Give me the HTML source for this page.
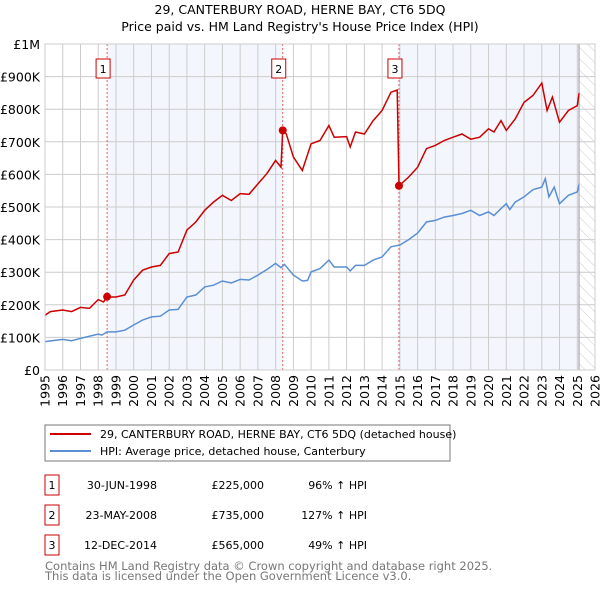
<!DOCTYPE html>
<html><head><meta charset="utf-8"><style>
body{margin:0;background:#fff;width:600px;height:590px;overflow:hidden;font-family:"DejaVu Sans","Liberation Sans",sans-serif;}
svg text{font-family:"DejaVu Sans","Liberation Sans",sans-serif;}
</style></head><body>
<svg id="c" width="600" height="590">
<defs><pattern id="hatch" width="8" height="8" patternUnits="userSpaceOnUse" patternTransform="rotate(-45)"><line x1="0" y1="0" x2="0" y2="8" stroke="#ccc" stroke-width="1"/></pattern></defs>
<text x="300" y="14" text-anchor="middle" font-size="12.5">29, CANTERBURY ROAD, HERNE BAY, CT6 5DQ</text>
<text x="300" y="31" text-anchor="middle" font-size="12.5">Price paid vs. HM Land Registry's House Price Index (HPI)</text>
<g id="plot"></g>
<rect x="45" y="425" width="405" height="36" fill="#fff" stroke="#777"/>
<line x1="50" y1="434" x2="91" y2="434" stroke="#cc0000" stroke-width="2"/>
<text x="100" y="438" font-size="11">29, CANTERBURY ROAD, HERNE BAY, CT6 5DQ (detached house)</text>
<line x1="50" y1="451" x2="91" y2="451" stroke="#5b8fd4" stroke-width="2"/>
<text x="100" y="455" font-size="11">HPI: Average price, detached house, Canterbury</text>
<g id="tbl"></g>
<text x="45" y="570" font-size="11.5" fill="#777">Contains HM Land Registry data © Crown copyright and database right 2025.</text>
<text x="45" y="580" font-size="11.5" fill="#777">This data is licensed under the Open Government Licence v3.0.</text>
</svg>
<script>
const hpiYears=[1995,1996,1996.5,1997,1998,1998.2,1998.5,1999,1999.5,2000,2000.5,2001,2001.5,2002,2002.5,2003,2003.5,2004,2004.5,2005,2005.5,2006,2006.5,2007,2007.5,2008,2008.3,2008.5,2009,2009.5,2009.8,2010,2010.5,2011,2011.3,2012,2012.2,2012.5,2013,2013.5,2014,2014.5,2015,2015.5,2016,2016.5,2017,2017.5,2018,2018.5,2019,2019.5,2020,2020.3,2020.7,2021,2021.2,2021.5,2022,2022.5,2023,2023.2,2023.4,2023.7,2024,2024.5,2025,2025.1];
const hpiValues=[87,94,90,97,110,107,117,117,122,138,153,163,165,184,186,224,230,255,260,273,267,278,276,291,308,327,314,324,291,273,275,301,311,337,316,316,304,321,321,337,347,378,383,400,420,454,459,469,474,480,490,474,485,474,495,510,492,515,531,553,561,587,531,561,510,536,546,569];
const priceYears=[1995,1995.3,1996,1996.5,1997,1997.5,1998,1998.3,1998.5,1999,1999.5,2000,2000.5,2001,2001.5,2002,2002.5,2003,2003.5,2004,2004.5,2005,2005.5,2006,2006.5,2007,2007.5,2008,2008.3,2008.4,2008.6,2009,2009.5,2010,2010.5,2011,2011.3,2012,2012.2,2012.5,2013,2013.5,2014,2014.5,2014.85,2014.95,2015.5,2016,2016.5,2017,2017.5,2018,2018.5,2019,2019.5,2020,2020.3,2020.7,2021,2021.5,2022,2022.5,2023,2023.3,2023.6,2024,2024.5,2025,2025.1];
const priceValues=[168,179,184,179,192,189,216,209,224,224,230,276,306,316,321,357,362,429,454,490,515,536,520,541,539,571,602,643,622,735,724,653,612,694,704,750,714,716,684,730,724,765,796,852,859,565,592,622,679,689,704,714,724,708,714,740,730,765,735,770,821,842,880,796,837,760,796,811,849];
const saleYears=[1998.5,2008.4,2014.95];
const saleValues=[225,735,565];
const saleLabels=["1","2","3"];
const saleDates=["30-JUN-1998","23-MAY-2008","12-DEC-2014"];
const salePrices=["£225,000","£735,000","£565,000"];
const salePcts=["96% ↑ HPI","127% ↑ HPI","49% ↑ HPI"];
const yTicks=[0,100,200,300,400,500,600,700,800,900,1000];
const yTickLabels=["£0","£100K","£200K","£300K","£400K","£500K","£600K","£700K","£800K","£900K","£1M"];
const xTicks=[];for(let y=1995;y<=2026;y++)xTicks.push(y);

const X0=45,X1=595,Y0=370,Y1=44;
const xs=v=>X0+(v-1995)/(2026-1995)*(X1-X0);
const ys=v=>Y0-v/1000*(Y0-Y1);
const NS="http://www.w3.org/2000/svg";
const plot=document.getElementById('plot');
function mk(tag,attrs,parent){const e=document.createElementNS(NS,tag);for(const k in attrs)e.setAttribute(k,attrs[k]);(parent||plot).appendChild(e);return e;}
let r=mk('rect',{x:xs(saleYears[0]),y:Y1,width:xs(saleYears[1])-xs(saleYears[0]),height:Y0-Y1,fill:'#f3f6fd'});


r=mk('rect',{x:xs(saleYears[2]),y:Y1,width:xs(2025.1)-xs(saleYears[2]),height:Y0-Y1,fill:'#f3f6fd'});


r=mk('rect',{x:xs(2025.1),y:Y1,width:X1-xs(2025.1),height:Y0-Y1,fill:'url(#hatch)'});


yTicks.forEach((t,i)=>{
 const l=mk('line',{x1:X0,x2:X1,y1:ys(t),y2:ys(t),stroke:'#ccc'});
 
 
 const tx=mk('text',{x:X0-5,y:ys(t)+5,'text-anchor':'end','font-size':'12.5'});
 tx.textContent=yTickLabels[i];
 
 
});
xTicks.forEach(t=>{
 const l=mk('line',{x1:xs(t),x2:xs(t),y1:Y1,y2:Y0,stroke:'#ccc'});
 
 
 const tx=mk('text',{x:0,y:0,'text-anchor':'end','font-size':'12.5',transform:`translate(${xs(t)+4.5},${Y0+5}) rotate(-90)`});
 tx.textContent=t;
 
 
});
let vl=mk('line',{x1:xs(2025.1),x2:xs(2025.1),y1:Y1,y2:Y0,stroke:'#999'});


saleYears.forEach((s,i)=>{
 const l=mk('line',{x1:xs(s),x2:xs(s),y1:Y1,y2:Y0,stroke:'#e06060','stroke-dasharray':'2,2'});
 
 
});
const path=(xsA,vs)=>xsA.map((x,i)=>(i?'L':'M')+xs(x).toFixed(1)+','+ys(vs[i]).toFixed(1)).join('');
let p=mk('path',{d:path(hpiYears,hpiValues),fill:'none',stroke:'#5b8fd4','stroke-width':1.5});


p=mk('path',{d:path(priceYears,priceValues),fill:'none',stroke:'#cc0000','stroke-width':1.5});


saleYears.forEach((s,i)=>{
 const c=mk('circle',{cx:xs(s),cy:ys(saleValues[i]),r:4,fill:'#cc0000'});
 
 
 const b=mk('rect',{x:xs(s)-11,y:59,width:14,height:19,fill:'#fff',stroke:'#cc0000'});
 
 
 const t=mk('text',{x:xs(s)-4,y:73,'text-anchor':'middle','font-size':'11'});
 t.textContent=saleLabels[i];
 
 
});
let fr=mk('rect',{x:X0,y:Y1,width:X1-X0,height:Y0-Y1,fill:'none',stroke:'#ccc'});


const tbl=document.getElementById('tbl');
saleLabels.forEach((lab,i)=>{
 const cy=483+i*30;
 const b=mk('rect',{x:45,y:cy-8,width:14,height:20,fill:'#fff',stroke:'#cc0000'},tbl);
 
 
 const cells=[[52,'middle',lab,'table-badge-number'],[157,'end',saleDates[i],'table-date'],[264,'end',salePrices[i],'table-price'],[367,'end',salePcts[i],'table-hpi-change']];
 cells.forEach(c=>{
  const t=mk('text',{x:c[0],y:cy+6,'text-anchor':c[1],'font-size':'11'},tbl);
  t.textContent=c[2];
  
  
 });
});
</script>
</body></html>
